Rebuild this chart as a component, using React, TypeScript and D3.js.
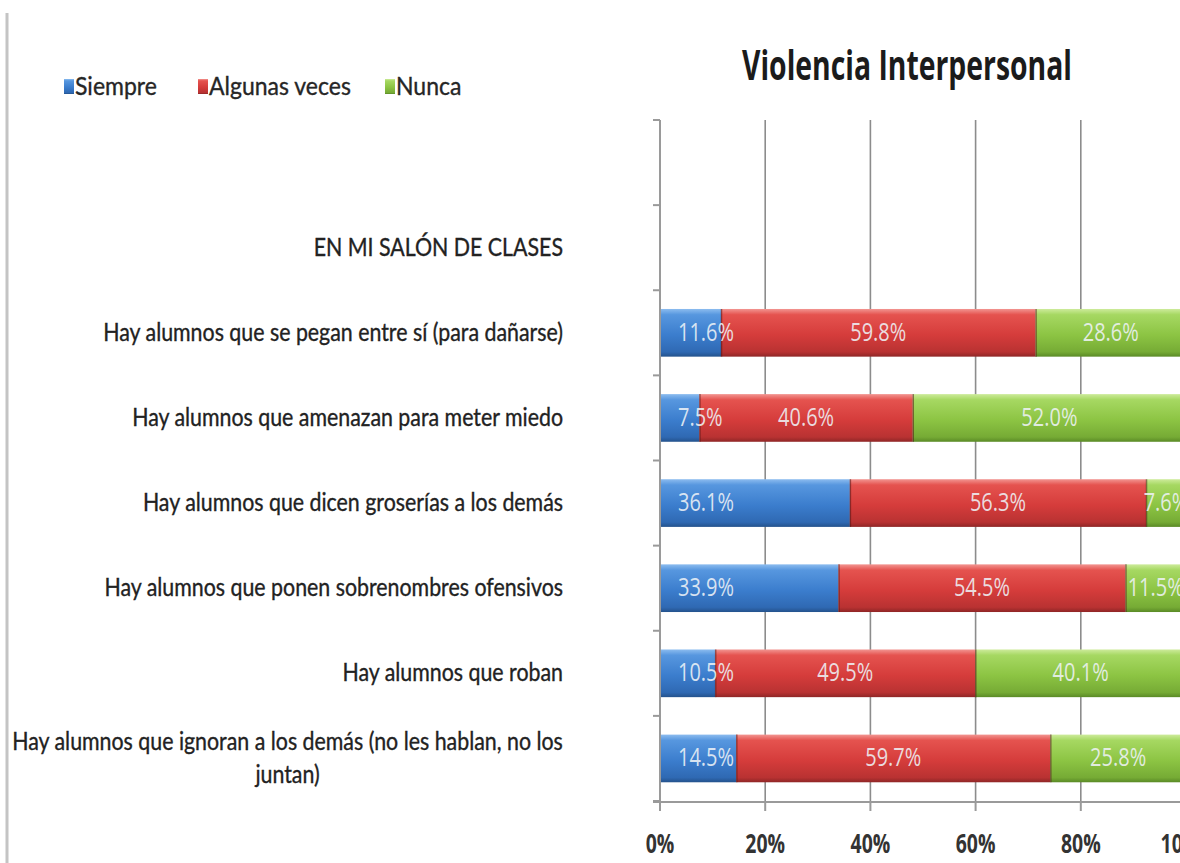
import React, { useEffect, useRef } from "react";
import * as d3 from "d3";

// ---------- data ----------
const title = "Violencia Interpersonal";
const categories = [
  "",
  "EN MI SALÓN DE CLASES",
  "Hay alumnos que se pegan entre sí (para dañarse)",
  "Hay alumnos que amenazan para meter miedo",
  "Hay alumnos que dicen groserías a los demás",
  "Hay alumnos que ponen sobrenombres ofensivos",
  "Hay alumnos que roban",
  "Hay alumnos que ignoran a los demás (no les hablan, no los juntan)",
];
const seriesNames = ["Siempre", "Algunas veces", "Nunca"];
const siempre = [null, null, 11.6, 7.5, 36.1, 33.9, 10.5, 14.5];
const algunasVeces = [null, null, 59.8, 40.6, 56.3, 54.5, 49.5, 59.7];
const nunca = [null, null, 28.6, 52.0, 7.6, 11.5, 40.1, 25.8];
const xTicks = [0, 20, 40, 60, 80, 100];

// ---------- style ----------
const W = 1180;
const H = 863;
const FONT = "'Open Sans', 'Liberation Sans', sans-serif";
const LFONT = "Lato, 'Open Sans', sans-serif";
const gradStops: Record<string, [number, string][]> = {
  Siempre: [
    [0, "#8cbcef"],
    [0.12, "#5797df"],
    [0.55, "#3b7dcd"],
    [0.9, "#2f69b3"],
    [1, "#24528c"],
  ],
  "Algunas veces": [
    [0, "#f29591"],
    [0.12, "#e5534f"],
    [0.55, "#d53c3b"],
    [0.9, "#b93232"],
    [1, "#8f2626"],
  ],
  Nunca: [
    [0, "#cdeb9b"],
    [0.12, "#a6d862"],
    [0.55, "#8cc443"],
    [0.9, "#76ab35"],
    [1, "#5a8a26"],
  ],
};

export default function App() {
  const ref = useRef<SVGSVGElement | null>(null);

  useEffect(() => {
    const svg = d3.select(ref.current);
    svg.selectAll("*").remove();

    const rows = categories.map((c, i) => ({
      cat: c,
      has: siempre[i] != null,
      Siempre: siempre[i] ?? 0,
      "Algunas veces": algunasVeces[i] ?? 0,
      Nunca: nunca[i] ?? 0,
    }));

    const x = d3.scaleLinear().domain([0, 1]).range([660, 1186]);
    const y = d3
      .scaleBand<number>()
      .domain(d3.range(categories.length))
      .range([120, 801])
      .paddingInner(0.44)
      .paddingOuter(0.22);
    const step = y.step();
    const top = 120;

    const defs = svg.append("defs");
    seriesNames.forEach((s, i) => {
      const g = defs
        .append("linearGradient")
        .attr("id", "g" + i)
        .attr("x1", 0)
        .attr("y1", 0)
        .attr("x2", 0)
        .attr("y2", 1);
      gradStops[s].forEach(([o, c]) =>
        g.append("stop").attr("offset", o).attr("stop-color", c)
      );
    });

    // frame line on the left
    svg
      .append("line")
      .attr("x1", 7)
      .attr("x2", 7)
      .attr("y1", 13)
      .attr("y2", H)
      .attr("stroke", "#c4c4c4")
      .attr("stroke-width", 3);

    // title
    svg
      .append("text")
      .attr("transform", `translate(907,80) scale(0.675,1)`)
      .attr("text-anchor", "middle")
      .attr("font-family", FONT)
      .attr("font-weight", 700)
      .attr("font-size", 42)
      .attr("fill", "#1b1b1b")
      .text(title);

    // legend
    const legendX = [64, 198, 385];
    seriesNames.forEach((s, i) => {
      const g = svg.append("g");
      g.append("rect")
        .attr("x", legendX[i])
        .attr("y", 79)
        .attr("width", 10)
        .attr("height", 15)
        .attr("fill", `url(#g${i})`);
      g.append("text")
        .attr("transform", `translate(${legendX[i] + 11},95) scale(0.92,1)`)
        .attr("font-family", LFONT)
        .attr("font-size", 25)
        .attr("fill", "#262626")
        .attr("stroke", "#262626")
        .attr("stroke-width", 0.35)
        .text(s);
    });

    // gridlines
    svg
      .append("g")
      .selectAll("line")
      .data(xTicks.filter((t) => t > 0))
      .join("line")
      .attr("x1", (d) => x(d / 100))
      .attr("x2", (d) => x(d / 100))
      .attr("y1", top)
      .attr("y2", 801)
      .attr("stroke", "#8c8c8c")
      .attr("stroke-width", 1.6);

    // bars
    const stack = d3
      .stack<any>()
      .keys(seriesNames)
      .offset(d3.stackOffsetExpand);
    const series = stack(rows);
    series.forEach((ser, si) => {
      const g = svg.append("g");
      ser.forEach((d, ri) => {
        if (!rows[ri].has) return;
        g.append("rect")
          .attr("x", x(d[0]))
          .attr("y", y(ri)!)
          .attr("width", x(d[1]) - x(d[0]))
          .attr("height", y.bandwidth())
          .attr("fill", `url(#g${si})`);
        if (si > 0) {
          g.append("line")
            .attr("x1", x(d[0]) + 0.5)
            .attr("x2", x(d[0]) + 0.5)
            .attr("y1", y(ri)!)
            .attr("y2", y(ri)! + y.bandwidth())
            .attr("stroke", "rgba(80,20,20,0.55)")
            .attr("stroke-width", 1.5);
        }
      });
    });

    // data labels
    series.forEach((ser, si) => {
      const g = svg.append("g");
      ser.forEach((d, ri) => {
        if (!rows[ri].has) return;
        const val = (rows[ri] as any)[seriesNames[si]] as number;
        const cy = y(ri)! + y.bandwidth() / 2;
        const isBase = si === 0;
        const tx = isBase ? x(0) + 18 : (x(d[0]) + x(d[1])) / 2;
        g.append("text")
          .attr("transform", `translate(${tx},${cy + 8}) scale(0.8,1)`)
          .attr("text-anchor", isBase ? "start" : "middle")
          .attr("font-family", FONT)
          .attr("font-size", 25)
          .attr("fill", "#eef2f6")
          .attr("fill-opacity", 0.88)
          .text(val.toFixed(1) + "%");
      });
    });

    // y axis line + ticks
    svg
      .append("line")
      .attr("x1", 660)
      .attr("x2", 660)
      .attr("y1", top)
      .attr("y2", 801)
      .attr("stroke", "#9a9a9a")
      .attr("stroke-width", 2);
    svg
      .append("g")
      .selectAll("line")
      .data(d3.range(categories.length + 1))
      .join("line")
      .attr("x1", 653)
      .attr("x2", 660)
      .attr("y1", (k) => top + k * step)
      .attr("y2", (k) => top + k * step)
      .attr("stroke", "#9a9a9a")
      .attr("stroke-width", 2);

    // x axis line + ticks + labels
    svg
      .append("line")
      .attr("x1", 653)
      .attr("x2", W)
      .attr("y1", 802)
      .attr("y2", 802)
      .attr("stroke", "#9a9a9a")
      .attr("stroke-width", 2);
    const xt = svg.append("g");
    xt.selectAll("line")
      .data(xTicks)
      .join("line")
      .attr("x1", (d) => x(d / 100))
      .attr("x2", (d) => x(d / 100))
      .attr("y1", 802)
      .attr("y2", 811)
      .attr("stroke", "#9a9a9a")
      .attr("stroke-width", 2);
    xt.selectAll("text")
      .data(xTicks)
      .join("text")
      .attr("transform", (d) => `translate(${x(d / 100)},853) scale(0.72,1)`)
      .attr("text-anchor", "middle")
      .attr("font-family", FONT)
      .attr("font-weight", 700)
      .attr("font-size", 27)
      .attr("fill", "#333333")
      .text((d) => d + "%");

    // category labels (right aligned, wrapped when too long)
    const labG = svg.append("g");
    const probe = labG
      .append("text")
      .attr("font-family", LFONT)
      .attr("font-size", 25)
      .attr("visibility", "hidden");
    const rawW = (s: string) => {
      probe.text(s);
      return (probe.node() as SVGTextElement).getComputedTextLength();
    };
    // horizontal compression so that label widths follow the reference
    const labSx = 460 / rawW(categories[2]);
    const measure = (s: string) => rawW(s) * labSx;
    const maxW = 575;
    categories.forEach((c, i) => {
      if (!c) return;
      const cy = y(i)! + y.bandwidth() / 2;
      const words = c.split(" ");
      const lines: string[] = [];
      let cur = "";
      words.forEach((w) => {
        const t = cur ? cur + " " + w : w;
        if (measure(t) > maxW && cur) {
          lines.push(cur);
          cur = w;
        } else cur = t;
      });
      lines.push(cur);
      const firstW = measure(lines[0]);
      const lh = 33;
      const y0 = cy - ((lines.length - 1) * lh) / 2 + 8;
      lines.forEach((ln, li) => {
        const multi = lines.length > 1;
        const ax = multi ? 563 - firstW / 2 : 563;
        labG
          .append("text")
          .attr("transform", `translate(${ax},${y0 + li * lh}) scale(${labSx},1)`)
          .attr("text-anchor", multi ? "middle" : "end")
          .attr("font-family", LFONT)
          .attr("font-size", 25)
          .attr("fill", "#222222")
          .attr("stroke", "#222222")
          .attr("stroke-width", 0.35)
          .text(ln);
      });
    });
    probe.remove();
  }, []);

  return (
    <svg
      ref={ref}
      width={W}
      height={H}
      style={{ position: "absolute", left: 0, top: 0, background: "#fff" }}
    />
  );
}
